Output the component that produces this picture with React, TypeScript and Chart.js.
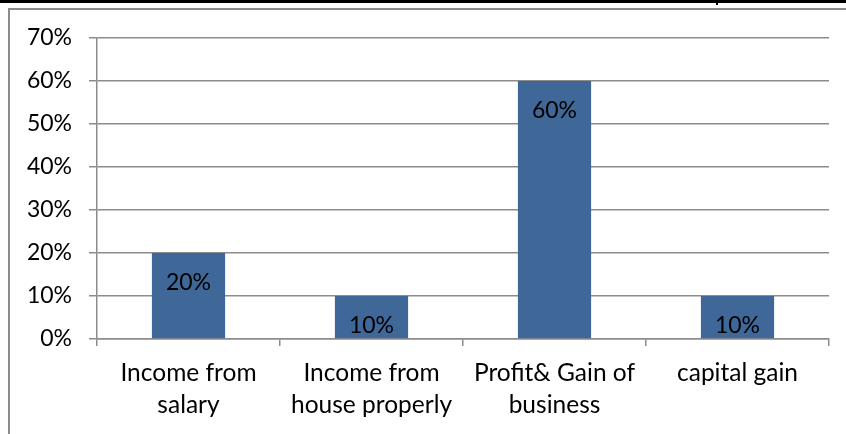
import React, { useEffect, useRef } from "react";
import { Chart, registerables } from "chart.js";

Chart.register(...registerables);

const categories: string[][] = [
  ["Income from", "salary"],
  ["Income from", "house properly"],
  ["Profit& Gain of", "business"],
  ["capital gain"],
];
const values: number[] = [20, 10, 60, 10];
const yMax = 70;
const yStep = 10;

const FONT = "Lato, 'Open Sans', sans-serif";
const FS = 23;
const FSX = 24.5;
const GRID = "#8c8c8c";
const BAR = "#3f6899";

const labelPlugin = {
  id: "barLabels",
  afterDatasetsDraw(chart: any) {
    const ctx = chart.ctx;
    const meta = chart.getDatasetMeta(0);
    ctx.save();
    ctx.font = `${FS}px ${FONT}`;
    ctx.fillStyle = "#000";
    ctx.textAlign = "center";
    ctx.textBaseline = "middle";
    meta.data.forEach((el: any, i: number) => {
      ctx.fillText(`${values[i]}%`, el.x, el.y + 30);
    });
    ctx.restore();
  },
};

export default function App() {
  const ref = useRef<HTMLCanvasElement>(null);
  useEffect(() => {
    if (!ref.current) return;
    const chart = new Chart(ref.current, {
      type: "bar",
      data: {
        labels: categories,
        datasets: [
          {
            data: values,
            backgroundColor: BAR,
            barPercentage: 0.4,
            categoryPercentage: 1,
          },
        ],
      },
      options: {
        animation: false,
        responsive: false,
        maintainAspectRatio: false,
        layout: { padding: { top: 38, right: 17, left: 0, bottom: 0 } },
        plugins: { legend: { display: false }, tooltip: { enabled: false } },
        scales: {
          x: {
            afterFit: (s: any) => {
              s.height = 95;
            },
            grid: {
              offset: true,
              drawOnChartArea: false,
              drawTicks: true,
              tickLength: 7,
              color: GRID,
              lineWidth: 1.5,
            },
            border: { display: true, color: GRID, width: 1.5 },
            ticks: {
              color: "#000",
              font: { family: FONT, size: FSX, lineHeight: 1.32 },
              padding: 11,
              maxRotation: 0,
              autoSkip: false,
            },
          },
          y: {
            min: 0,
            max: yMax,
            afterFit: (s: any) => {
              s.width = 97;
            },
            grid: {
              color: GRID,
              lineWidth: 1.5,
              tickLength: 8,
            },
            border: { display: true, color: GRID, width: 1.5 },
            ticks: {
              stepSize: yStep,
              color: "#000",
              font: { family: FONT, size: FS },
              padding: 17,
              callback: (v: any) => `${v}%`,
            },
          },
        },
      },
      plugins: [labelPlugin],
    });
    return () => chart.destroy();
  }, []);

  return (
    <div style={{ position: "fixed", left: 0, top: 0, width: 846, height: 434, background: "#fff", overflow: "hidden" }}>
      <div style={{ position: "absolute", left: 0, top: 0, width: 846, height: 3, background: "#000" }} />
      <div style={{ position: "absolute", left: 716, top: 0, width: 2, height: 5, background: "#000" }} />
      <div style={{ position: "absolute", left: 8, top: 8, width: 846, height: 2, background: "#8c8c8c" }} />
      <div style={{ position: "absolute", left: 8, top: 8, width: 2, height: 440, background: "#8c8c8c" }} />
      <canvas ref={ref} width={846} height={434} style={{ position: "absolute", left: 0, top: 0 }} />
    </div>
  );
}
